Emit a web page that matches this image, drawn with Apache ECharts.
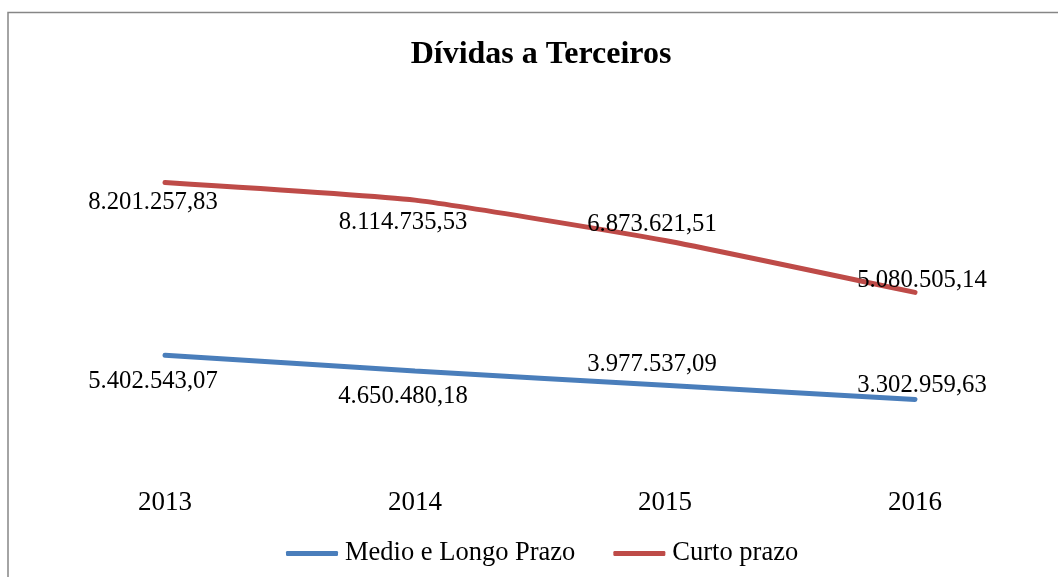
<!DOCTYPE html>
<html lang="pt">
<head>
    <meta charset="UTF-8">
    <title>Dívidas a Terceiros</title>
    <script src="https://cdn.jsdelivr.net/npm/echarts@6/dist/echarts.min.js"></script>
    <style>
        html, body { margin: 0; padding: 0; background: #fff; }
    </style>
</head>
<body>
    <div id="main" style="width: 1058px; height: 577px;"></div>
    <script>
        var years = ['2013', '2014', '2015', '2016'];
        var medioLongo = [5402543.07, 4650480.18, 3977537.09, 3302959.63];
        var curto = [8201257.83, 8114735.53, 6873621.51, 5080505.14];

        // label offsets (px) relative to each point, as in the original sheet
        var medioOffsets = [[-12, 26], [-12, 25], [-13, -21], [7, -14]];
        var curtoOffsets = [[-12, 20], [-12, 22], [-13, -16], [7, -12]];

        var serif = "'Liberation Serif', 'Times New Roman', serif";

        function fmt(v) {
            var parts = v.toFixed(2).split('.');
            return parts[0].replace(/\B(?=(\d{3})+(?!\d))/g, '.') + ',' + parts[1];
        }

        function withLabels(values, offsets) {
            return values.map(function (v, i) {
                return { value: v, label: { offset: offsets[i] } };
            });
        }

        var myChart = echarts.init(document.getElementById('main'));
        var option = {
            backgroundColor: '#fff',
            animation: false,
            title: {
                text: 'Dívidas a Terceiros',
                left: 536,
                textAlign: 'center',
                top: 34,
                textStyle: { fontFamily: serif, fontSize: 32, fontWeight: 'bold', color: '#000' }
            },
            graphic: [{
                type: 'rect',
                shape: { x: 8, y: 12.5, width: 1200, height: 800 },
                style: { fill: 'none', stroke: '#868686', lineWidth: 1.5 },
                silent: true
            }],
            legend: {
                left: 281,
                top: 535,
                itemWidth: 52,
                itemHeight: 5,
                itemGap: 38,
                icon: 'roundRect',
                textStyle: { fontFamily: serif, fontSize: 26.5, color: '#000', padding: [0, 0, 0, 2] },
                data: ['Medio e Longo Prazo', 'Curto prazo']
            },
            grid: { left: 40, right: 18, top: 132, bottom: 108 },
            xAxis: {
                type: 'category',
                data: years,
                axisLine: { show: false },
                axisTick: { show: false },
                axisLabel: { margin: 20, fontFamily: serif, fontSize: 27, color: '#000' }
            },
            yAxis: {
                type: 'value',
                min: 0,
                max: 16000000,
                show: false,
                splitLine: { show: false }
            },
            series: [
                {
                    name: 'Medio e Longo Prazo',
                    type: 'line',
                    stack: 'total',
                    smooth: 0.15,
                    symbol: 'circle',
                    symbolSize: 0,
                    showSymbol: true,
                    lineStyle: { width: 5, color: '#4A7EBB', cap: 'round' },
                    itemStyle: { color: '#4A7EBB' },
                    label: {
                        show: true,
                        position: 'inside',
                        fontFamily: serif,
                        fontSize: 24.7,
                        color: '#000',
                        formatter: function (p) { return fmt(p.value); }
                    },
                    data: withLabels(medioLongo, medioOffsets)
                },
                {
                    name: 'Curto prazo',
                    type: 'line',
                    stack: 'total',
                    smooth: 0.15,
                    symbol: 'circle',
                    symbolSize: 0,
                    showSymbol: true,
                    lineStyle: { width: 5, color: '#BE4B48', cap: 'round' },
                    itemStyle: { color: '#BE4B48' },
                    label: {
                        show: true,
                        position: 'inside',
                        fontFamily: serif,
                        fontSize: 24.7,
                        color: '#000',
                        formatter: function (p) { return fmt(p.value); }
                    },
                    data: withLabels(curto, curtoOffsets)
                }
            ]
        };
        myChart.setOption(option);
    </script>
</body>
</html>
